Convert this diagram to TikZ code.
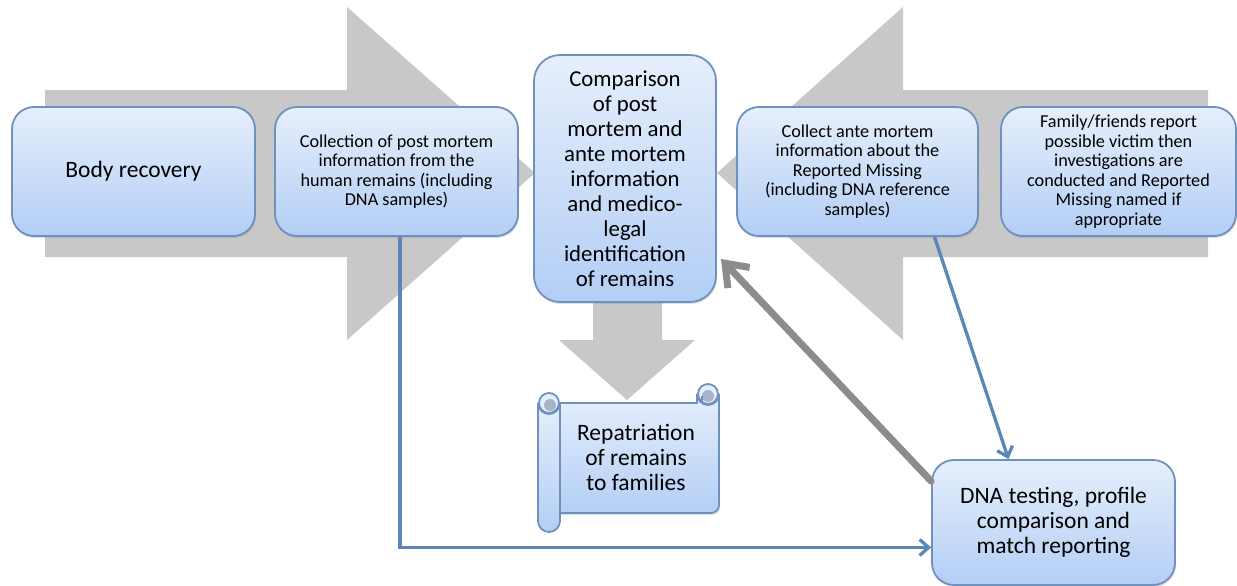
\documentclass[tikz,border=0pt]{standalone}
\usepackage{fontspec}
\setmainfont{Carlito}
\usepackage{tikz}
\usetikzlibrary{arrows.meta,positioning,shadows}
\definecolor{boxtop}{HTML}{E6EFFC}
\definecolor{boxbot}{HTML}{B3CEF5}
\definecolor{boxline}{HTML}{6F91BD}
\definecolor{linkcol}{HTML}{5B87B8}
\definecolor{blockcol}{HTML}{C8C8C8}
\definecolor{backcol}{HTML}{8C8C8C}
\definecolor{curlcol}{HTML}{A7B4C6}
\newcommand{\bigtxt}{\fontsize{23.5}{25}\selectfont}
\newcommand{\midtxt}{\fontsize{22.8}{25}\selectfont}
\newcommand{\smalltxt}{\fontsize{18.2}{19.5}\selectfont}

\begin{document}
\begin{tikzpicture}[x=1pt,y=-1pt,
  stage/.style={rectangle,rounded corners=22pt,draw=boxline,line width=1.8pt,
    top color=boxtop,bottom color=boxbot,align=center,inner sep=0pt,
    drop shadow={opacity=0.25,shadow xshift=1pt,shadow yshift=-2pt}},
  block/.style={fill=blockcol,draw=none},
  link/.style={-{Straight Barb[length=9pt,width=16pt]},linkcol,line width=3.3pt},
  back/.style={-{Straight Barb[length=20pt,width=30pt]},backcol,line width=7pt,line cap=round,line join=round},
  scrollbox/.style={draw=boxline,line width=1.8pt,top color=boxtop,bottom color=boxbot},
  curl/.style={draw=boxline,line width=1.8pt,fill=boxtop}
]
\useasboundingbox[fill=white] (0,0) rectangle (1237,586);

% big grey flow arrows
\fill[block] (45,90) -- (347,90) -- (347,7) -- (535,173) -- (347,340) -- (347,257) -- (45,257) -- cycle;
\fill[block] (1208,90) -- (903,90) -- (903,7) -- (717,173) -- (903,340) -- (903,257) -- (1208,257) -- cycle;
\fill[block] (593,290) -- (662,290) -- (662,340) -- (695,340) -- (627,400) -- (559,340) -- (593,340) -- cycle;

\node[stage,minimum width=243pt,minimum height=129pt,font=\bigtxt] (body) at (133.5,171.5) {Body recovery};
\node[stage,minimum width=243pt,minimum height=129pt,font=\smalltxt] (coll) at (396.5,171.5)
  {Collection of post mortem\\information from the\\human remains (including\\DNA samples)};
\node[stage,rounded corners=26pt,minimum width=182pt,minimum height=247pt,font=\midtxt] (comp) at (625,178.5)
  {Comparison\\of post\\mortem and\\ante mortem\\information\\and medico-\\legal\\identification\\of remains};
\node[stage,minimum width=241pt,minimum height=129pt,font=\smalltxt] (ante) at (857.5,171.5)
  {Collect ante mortem\\information about the\\Reported Missing\\(including DNA reference\\samples)};
\node[stage,minimum width=235pt,minimum height=129pt,font=\smalltxt] (fam) at (1118.5,171.5)
  {Family/friends report\\possible victim then\\investigations are\\conducted and Reported\\Missing named if\\appropriate};
\node[stage,minimum width=243pt,minimum height=125pt,font=\bigtxt] (dna) at (1053.5,522.5)
  {DNA testing, profile\\comparison and\\match reporting};

% scroll
\path[scrollbox,drop shadow={opacity=0.25,shadow xshift=1pt,shadow yshift=-2pt}]
  (549,403) -- (697,403) -- (697,394) arc[start angle=180,end angle=0,radius=11]
  -- (719,505) arc[start angle=0,end angle=90,radius=8] -- (549,513) -- cycle;
\path[curl] (708,394) circle[radius=10];
\fill[curlcol] (708,396) circle[radius=6];
\draw[boxline,line width=1.5pt] (702,403) -- (702,396);
\path[scrollbox] (538,403) arc[start angle=180,end angle=0,radius=11]
  -- (560,521) arc[start angle=0,end angle=180,radius=11] -- cycle;
\path[curl] (549,403) circle[radius=10];
\fill[curlcol] (550,405) circle[radius=6];
\node[font=\bigtxt,align=center] (repat) at (636,457) {Repatriation\\of remains\\to families};

% connectors
\coordinate (gtip) at (721,259);
\draw[link] ([xshift=3.5pt]coll.south) |- ([yshift=-25pt]dna.west);
\draw[link] ([xshift=77pt]ante.south) -- ([xshift=-45pt]dna.north);
\draw[back] ([yshift=-22pt]dna.north west) -- (gtip);
\end{tikzpicture}
\end{document}
